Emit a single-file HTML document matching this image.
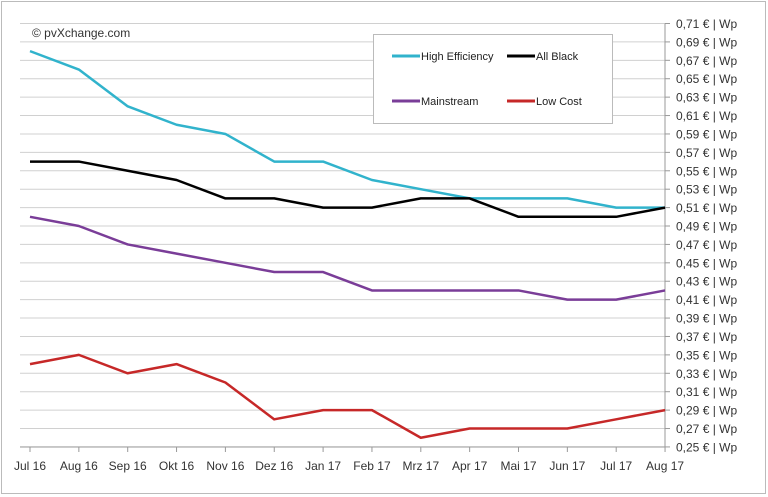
<!DOCTYPE html>
<html><head><meta charset="utf-8"><style>
body{margin:0;background:#fff;}
svg{display:block;font-family:"Liberation Sans",sans-serif;}
</style></head><body>
<svg id="s" width="768" height="497" xmlns="http://www.w3.org/2000/svg">
<rect x="1.5" y="1.5" width="764" height="492" fill="#fff" stroke="#bbb" stroke-width="1"/>
<g id="g"></g>
<text x="32" y="37" font-size="12" fill="#333">© pvXchange.com</text>
<rect x="373.5" y="34.5" width="239" height="89" fill="#fff" stroke="#bbb"/>
<line x1="392" y1="56" x2="420" y2="56" stroke="#31b3cc" stroke-width="3"/>
<text x="421" y="60" font-size="11" fill="#222">High Efficiency</text>
<line x1="507" y1="56" x2="535" y2="56" stroke="#000" stroke-width="3"/>
<text x="536" y="60" font-size="11" fill="#222">All Black</text>
<line x1="392" y1="101" x2="420" y2="101" stroke="#7a3d98" stroke-width="3"/>
<text x="421" y="105" font-size="11" fill="#222">Mainstream</text>
<line x1="507" y1="101" x2="535" y2="101" stroke="#c62828" stroke-width="3"/>
<text x="536" y="105" font-size="11" fill="#222">Low Cost</text>
</svg>
<script>
var g=document.getElementById('g'),ns='http://www.w3.org/2000/svg',h='';
function y(v){return 23.5+(0.71-v)*920.5;}
function x(i){return 30+48.85*i;}
for(var k=0;k<=23;k++){var yy=23.5+k*18.41;var v=(0.71-k*0.02).toFixed(2).replace('.',',');
h+='<line x1="20" y1="'+yy+'" x2="665" y2="'+yy+'" stroke="#d0d0d0" stroke-width="1"/>';
h+='<line x1="665" y1="'+yy+'" x2="670" y2="'+yy+'" stroke="#999"/>';
h+='<text x="676" y="'+(yy+4.5)+'" font-size="12" fill="#333">'+v+' € | Wp</text>';}
h+='<line x1="665" y1="23.5" x2="665" y2="447" stroke="#999"/>';
h+='<line x1="20" y1="447" x2="665" y2="447" stroke="#999"/>';
var m=['Jul 16','Aug 16','Sep 16','Okt 16','Nov 16','Dez 16','Jan 17','Feb 17','Mrz 17','Apr 17','Mai 17','Jun 17','Jul 17','Aug 17'];
for(var i=0;i<14;i++){h+='<line x1="'+x(i)+'" y1="447" x2="'+x(i)+'" y2="452" stroke="#999"/>';
h+='<text x="'+x(i)+'" y="470" font-size="12" fill="#333" text-anchor="middle">'+m[i]+'</text>';}
var S=[['#31b3cc',[.68,.66,.62,.60,.59,.56,.56,.54,.53,.52,.52,.52,.51,.51]],
['#000',[.56,.56,.55,.54,.52,.52,.51,.51,.52,.52,.50,.50,.50,.51]],
['#7a3d98',[.50,.49,.47,.46,.45,.44,.44,.42,.42,.42,.42,.41,.41,.42]],
['#c62828',[.34,.35,.33,.34,.32,.28,.29,.29,.26,.27,.27,.27,.28,.29]]];
S.forEach(function(s){var p=s[1].map(function(v,i){return x(i)+','+y(v)}).join(' ');
h+='<polyline points="'+p+'" fill="none" stroke="'+s[0]+'" stroke-width="2.5" stroke-linejoin="round"/>';});
g.innerHTML=h;
</script>
</body></html>
